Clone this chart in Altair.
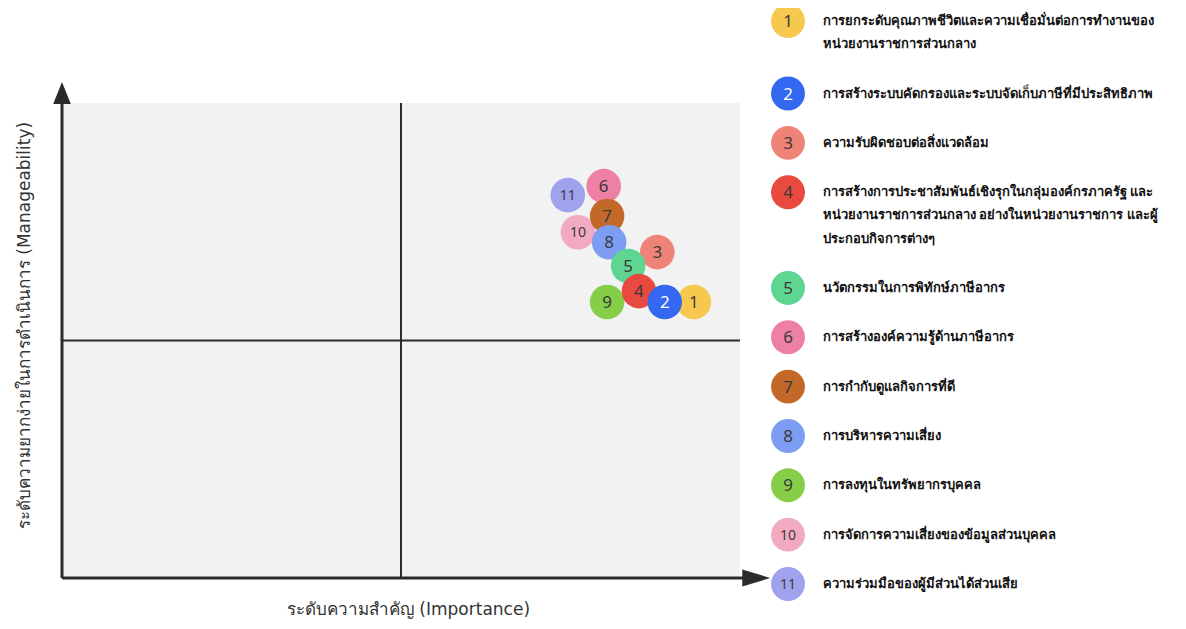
import altair as alt
import pandas as pd

# ---------------- data ----------------
ids = [1, 2, 3, 4, 5, 6, 7, 8, 9, 10, 11]
importance = [0.932, 0.889, 0.878, 0.851, 0.835, 0.799, 0.804, 0.807, 0.804, 0.761, 0.746]
manageability = [0.581, 0.581, 0.686, 0.604, 0.657, 0.825, 0.762, 0.707, 0.581, 0.728, 0.806]
labels = [
    ["การยกระดับคุณภาพชีวิตและความเชื่อมั่นต่อการทำงานของ", "หน่วยงานราชการส่วนกลาง"],
    ["การสร้างระบบคัดกรองและระบบจัดเก็บภาษีที่มีประสิทธิภาพ"],
    ["ความรับผิดชอบต่อสิ่งแวดล้อม"],
    ["การสร้างการประชาสัมพันธ์เชิงรุกในกลุ่มองค์กรภาครัฐ และ",
     "หน่วยงานราชการส่วนกลาง อย่างในหน่วยงานราชการ และผู้",
     "ประกอบกิจการต่างๆ"],
    ["นวัตกรรมในการพิทักษ์ภาษีอากร"],
    ["การสร้างองค์ความรู้ด้านภาษีอากร"],
    ["การกำกับดูแลกิจการที่ดี"],
    ["การบริหารความเสี่ยง"],
    ["การลงทุนในทรัพยากรบุคคล"],
    ["การจัดการความเสี่ยงของข้อมูลส่วนบุคคล"],
    ["ความร่วมมือของผู้มีส่วนได้ส่วนเสีย"],
]
x_title = "ระดับความสำคัญ (Importance)"
y_title = "ระดับความยากง่ายในการดำเนินการ (Manageability)"

# ---------------- style ----------------
palette = ["#F6C94E", "#3468F0", "#F08378", "#E84A3F", "#5ED591", "#EE80A6",
           "#C2692A", "#7C9DF2", "#86CE48", "#F2AAC2", "#9FA2EC"]
z_rank = [0, 10, 1, 9, 8, 4, 6, 7, 2, 5, 3]
MID = 0.5
Y_ARROW_HEAD = 1.021
X_ARROW_HEAD = 1.024
LINE_STEP = 0.47
W, H = 678, 475
FONT = "Noto Sans"
TITLE_FONT = "DejaVu Sans"
INK = "#2b2b2b"

rows = []
for i, k in enumerate(ids):
    rows.append({
        "id": str(k), "imp": importance[i], "man": manageability[i],
        "fill": palette[i], "z": z_rank[i],
        "tcol": "#ffffff" if k == 2 else "#3a3a3a",
        "fs": 17 if k < 10 else 14,
    })
pts = pd.DataFrame(rows)

leg_items, leg_lines = [], []
pos = 0.0
for i, k in enumerate(ids):
    leg_items.append({"id": str(k), "pos": pos, "fill": palette[i],
                      "tcol": "#ffffff" if k == 2 else "#3a3a3a",
                      "fs": 17 if k < 10 else 14})
    for j, line in enumerate(labels[i]):
        leg_lines.append({"pos": pos + j * LINE_STEP, "txt": line})
    pos += 1 + LINE_STEP * (len(labels[i]) - 1)
last_pos = leg_items[-1]["pos"]
leg_items = pd.DataFrame(leg_items)
leg_lines = pd.DataFrame(leg_lines)

xs = alt.Scale(domain=[0, 1], nice=False, zero=False)
ys = alt.Scale(domain=[0, 1], nice=False, zero=False)
X_AX = alt.Axis(title=x_title, labels=False, ticks=False, domain=False, grid=False,
                titleX=346, titlePadding=23, titleFontSize=17, titleFont=TITLE_FONT,
                titleFontWeight="normal", titleColor="#333333")
Y_AX = alt.Axis(title=y_title, labels=False, ticks=False, domain=False, grid=False,
                titleY=222, titlePadding=29, titleFontSize=17, titleFont=TITLE_FONT,
                titleFontWeight="normal", titleColor="#333333")

# quadrant lines
mid_df = pd.DataFrame({"x": [MID, 0], "x2": [MID, 1], "y": [0, MID], "y2": [1, MID]})
mids = alt.Chart(mid_df).mark_rule(color=INK, strokeWidth=2).encode(
    x=alt.X("x:Q", scale=xs, axis=X_AX), x2="x2:Q",
    y=alt.Y("y:Q", scale=ys, axis=Y_AX), y2="y2:Q")

# axis arrows
ax_df = pd.DataFrame({"x": [0, 0], "x2": [0, X_ARROW_HEAD], "y": [0, 0], "y2": [Y_ARROW_HEAD, 0]})
axes_lines = alt.Chart(ax_df).mark_rule(color=INK, strokeWidth=3).encode(
    x=alt.X("x:Q", scale=xs, axis=X_AX), x2="x2:Q",
    y=alt.Y("y:Q", scale=ys, axis=Y_AX), y2="y2:Q")
head_up = alt.Chart(pd.DataFrame({"x": [0], "y": [Y_ARROW_HEAD]})).mark_point(
    shape="M0,-1L0.8,1L-0.8,1Z", filled=True, size=484, color=INK, opacity=1).encode(
    x=alt.X("x:Q", scale=xs, axis=X_AX), y=alt.Y("y:Q", scale=ys, axis=Y_AX))
head_right = alt.Chart(pd.DataFrame({"x": [X_ARROW_HEAD], "y": [0]})).mark_point(
    shape="M1,0L-1,-0.6L-1,0.6Z", filled=True, size=784, color=INK, opacity=1).encode(
    x=alt.X("x:Q", scale=xs, axis=X_AX), y=alt.Y("y:Q", scale=ys, axis=Y_AX))

bubbles = alt.Chart(pts).mark_circle(size=1195, opacity=1).encode(
    x=alt.X("imp:Q", scale=xs, axis=X_AX),
    y=alt.Y("man:Q", scale=ys, axis=Y_AX),
    color=alt.Color("fill:N", scale=None),
    order=alt.Order("z:Q"))
nums = alt.Chart(pts).mark_text(font=FONT, baseline="middle", align="center", dy=1).encode(
    x=alt.X("imp:Q", scale=xs, axis=X_AX),
    y=alt.Y("man:Q", scale=ys, axis=Y_AX),
    text="id:N",
    color=alt.Color("tcol:N", scale=None),
    size=alt.Size("fs:Q", scale=None),
    order=alt.Order("z:Q"))

main = alt.layer(mids, axes_lines, head_up, head_right, bubbles, nums)

# legend
ly = alt.Scale(domain=[0, last_pos], range=[21 - 103, 584 - 103])
leg_c = alt.Chart(leg_items).mark_circle(size=1150, opacity=1).encode(
    x=alt.value(726), y=alt.Y("pos:Q", scale=ly, axis=None),
    color=alt.Color("fill:N", scale=None))
leg_n = alt.Chart(leg_items).mark_text(font=FONT, baseline="middle", align="center", dy=1).encode(
    x=alt.value(726), y=alt.Y("pos:Q", scale=ly, axis=None), text="id:N",
    color=alt.Color("tcol:N", scale=None), size=alt.Size("fs:Q", scale=None))
leg_t = alt.Chart(leg_lines).mark_text(font=FONT, baseline="middle", align="left",
                                        fontSize=13, fontWeight="bold", color="#111111").encode(
    x=alt.value(761), y=alt.Y("pos:Q", scale=ly, axis=None), text="txt:N")
legend = alt.layer(leg_c, leg_n, leg_t)

chart = alt.layer(main, legend).resolve_scale(y="independent").properties(
    width=W, height=H,
    autosize=alt.AutoSizeParams(type="none"),
    padding={"left": 54, "top": 95, "right": 438, "bottom": 43},
).configure_view(fill="#f2f2f2", strokeWidth=0)

chart.save("out.html", embed_options={"renderer": "svg", "actions": False})
